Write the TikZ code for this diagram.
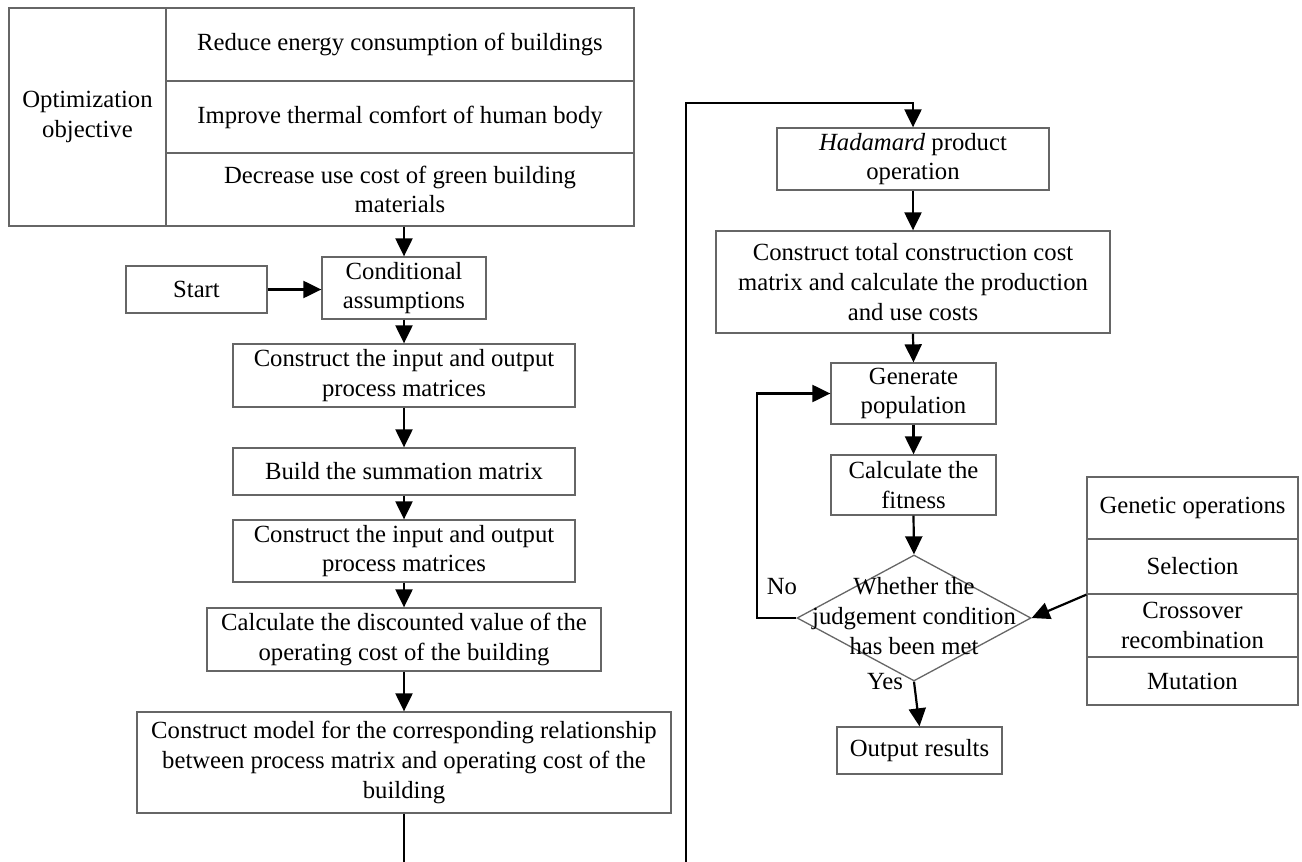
\documentclass[tikz,border=0pt]{standalone}
\usepackage{fontspec}
\setmainfont{Liberation Serif}
\usetikzlibrary{arrows.meta,shapes.geometric}

\begin{document}
\begin{tikzpicture}[x=1pt,y=-1pt,font=\fontsize{24.7}{29.6}\selectfont,
    box/.style={draw=black!60,line width=1.3pt,align=center,inner sep=0pt},
    flow/.style={line width=2.2pt,-{Triangle[length=18pt,width=17pt]}},
    wire/.style={line width=2.2pt}]
  \useasboundingbox (0,0) rectangle (1302,862);
  \node[box,minimum width=157pt,minimum height=218pt] (objective) at (87.5,117) {Optimization\\objective};
  \node[box,minimum width=468pt,minimum height=73pt] (goalA) at (400,44.5) {Reduce energy consumption of buildings};
  \node[box,minimum width=468pt,minimum height=72pt] (goalB) at (400,117) {Improve thermal comfort of human body};
  \node[box,minimum width=468pt,minimum height=73pt] (goalC) at (400,189.5) {Decrease use cost of green building\\materials};
  \node[box,minimum width=141pt,minimum height=47pt] (start) at (196.5,289.5) {Start};
  \node[box,minimum width=164pt,minimum height=62pt] (assume) at (404,288) {Conditional\\assumptions};
  \node[box,minimum width=342pt,minimum height=63pt] (matA) at (404,375.5) {Construct the input and output\\process matrices};
  \node[box,minimum width=342pt,minimum height=47pt] (summ) at (404,471.5) {Build the summation matrix};
  \node[box,minimum width=342pt,minimum height=62pt] (matB) at (404,551) {Construct the input and output\\process matrices};
  \node[box,minimum width=394pt,minimum height=63pt] (disc) at (404,639.5) {Calculate the discounted value of the\\operating cost of the building};
  \node[box,minimum width=534pt,minimum height=101pt] (model) at (404,762.5) {Construct model for the corresponding relationship\\between process matrix and operating cost of the\\building};
  \node[box,minimum width=272pt,minimum height=62pt] (hada) at (913,159) {\textit{Hadamard} product\\operation};
  \node[box,minimum width=394pt,minimum height=102pt] (total) at (913,282) {Construct total construction cost\\matrix and calculate the production\\and use costs};
  \node[box,minimum width=165pt,minimum height=61pt] (gen) at (913.5,393.5) {Generate\\population};
  \node[box,minimum width=165pt,minimum height=60pt] (fit) at (913.5,485) {Calculate the\\fitness};
  \node[diamond,draw=black!60,line width=1.3pt,minimum width=234pt,minimum height=126pt,inner sep=0pt] (judge) at (914,618) {};
  \node[align=center] (judgetext) at (914,616) {Whether the\\judgement condition\\has been met};
  \node[box,minimum width=165pt,minimum height=47pt] (out) at (919.5,750.5) {Output results};
  \node[box,minimum width=211pt,minimum height=62pt] (genop) at (1192.5,508) {Genetic operations};
  \node[box,minimum width=211pt,minimum height=55pt] (sel) at (1192.5,566.5) {Selection};
  \node[box,minimum width=211pt,minimum height=63pt] (cross) at (1192.5,625.5) {Crossover\\recombination};
  \node[box,minimum width=211pt,minimum height=48pt] (mut) at (1192.5,681) {Mutation};
  \node (no) at (782,587) {No};
  \node (yes) at (885,682) {Yes};
  \coordinate (leftend) at (404,862);
  \coordinate (rightend) at (686,862);
  \coordinate (topturn) at (686,103);
  \coordinate (noturn) at (757,618);
  \draw[flow] (goalC.south -| assume.north) -- (assume.north);
  \draw[flow] (start.east) -- (start.east -| assume.west);
  \draw[flow] (assume.south) -- (matA.north);
  \draw[flow] (matA.south) -- (summ.north);
  \draw[flow] (summ.south) -- (matB.north);
  \draw[flow] (matB.south) -- (disc.north);
  \draw[flow] (disc.south) -- (model.north);
  \draw[wire] (model.south) -- (leftend);
  \draw[flow] (rightend) -- (topturn) -| (hada.north);
  \draw[flow] (hada.south) -- (total.north);
  \draw[flow] (total.south) -- (gen.north);
  \draw[flow] (gen.south) -- (fit.north);
  \draw[flow] (fit.south) -- (judge.north);
  \draw[flow] (judge.west) -- (noturn) |- (gen.west);
  \draw[flow] (judge.south) -- (out.north);
  \draw[flow] (sel.south west) -- (judge.east);
\end{tikzpicture}
\end{document}
